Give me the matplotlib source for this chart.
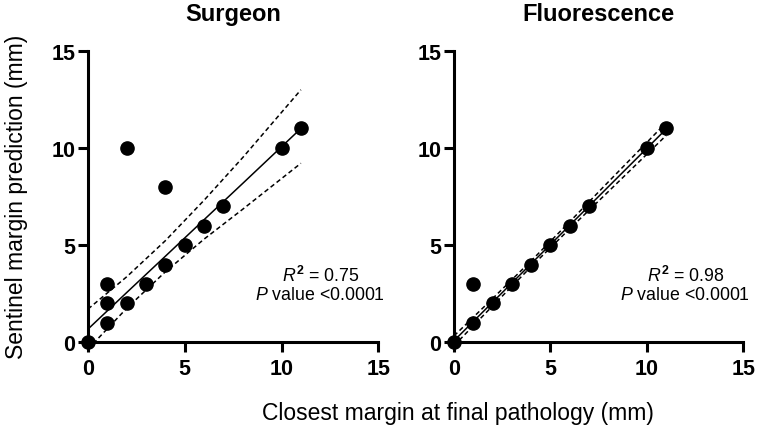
import matplotlib
matplotlib.use("Agg")
import matplotlib.pyplot as plt

plt.rcParams['font.family'] = ['Liberation Sans', 'DejaVu Sans']
plt.rcParams['mathtext.fontset'] = 'custom'
plt.rcParams['mathtext.rm'] = 'Liberation Sans'
plt.rcParams['mathtext.it'] = 'Liberation Sans:italic'
plt.rcParams['mathtext.bf'] = 'Liberation Sans:bold'

# ---- data ----
titles = ["Surgeon", "Fluorescence"]

surgeon_x = [0, 1, 1, 1, 2, 2, 3, 4, 4, 5, 6, 7, 10, 11]
surgeon_y = [0, 1, 2, 3, 2, 10, 3, 4, 8, 5, 6, 7, 10, 11]

fluor_x = [0, 1, 1, 2, 3, 4, 5, 6, 7, 10, 11]
fluor_y = [0, 1, 3, 2, 3, 4, 5, 6, 7, 10, 11]

# regression lines and 95% confidence bands, read at these x positions
band_x = [0, 2, 4, 6, 8, 11]
surgeon_fit = [0.68, 2.56, 4.43, 6.31, 8.18, 11.0]
surgeon_upper = [1.71, 3.37, 5.23, 7.31, 9.51, 12.99]
surgeon_lower = [-0.35, 1.75, 3.63, 5.31, 6.85, 9.21]

fluor_fit = [0.08, 2.06, 4.04, 6.02, 8.0, 10.97]
fluor_upper = [0.33, 2.25, 4.19, 6.2, 8.25, 11.3]
fluor_lower = [-0.17, 1.87, 3.89, 5.84, 7.75, 10.64]

r2_labels = ["0.75", "0.98"]
p_label = "<0.0001"

ticks = [0, 5, 10, 15]
xlabel = "Closest margin at final pathology (mm)"
ylabel = "Sentinel margin prediction (mm)"

# ---- figure ----
fig = plt.figure(figsize=(7.6, 4.31), dpi=100)
ax1 = fig.add_axes([0.1158, 0.2035, 0.382, 0.6765])
ax2 = fig.add_axes([0.5974, 0.2035, 0.3806, 0.6765])

panels = [
    (ax1, surgeon_x, surgeon_y, surgeon_fit, surgeon_upper, surgeon_lower),
    (ax2, fluor_x, fluor_y, fluor_fit, fluor_upper, fluor_lower),
]

for i, (ax, xs, ys, fit, up, lo) in enumerate(panels):
    ax.plot(band_x, fit, color='black', lw=1.1, zorder=3)
    ax.plot(band_x, up, color='black', lw=1.1, ls=(0, (3.0, 2.0)), zorder=3)
    ax.plot(band_x, lo, color='black', lw=1.1, ls=(0, (3.0, 2.0)), zorder=3)
    ax.plot(xs, ys, 'o', color='black', ms=9.5, clip_on=False, zorder=5)

    ax.set_xlim(0, 15)
    ax.set_ylim(0, 15)
    ax.set_xticks(ticks)
    ax.set_yticks(ticks)
    ax.set_xticklabels([str(t) for t in ticks], fontweight='bold', fontsize=15.5)
    ax.set_yticklabels([str(t) for t in ticks], fontweight='bold', fontsize=15.5)
    for s in ['top', 'right']:
        ax.spines[s].set_visible(False)
    for s in ['left', 'bottom']:
        ax.spines[s].set_linewidth(2.2)
    ax.tick_params(axis='both', length=7, width=2.2, direction='out')
    ax.tick_params(axis='x', pad=4)
    ax.tick_params(axis='y', pad=2)
    ax.set_title(titles[i], fontweight='bold', fontsize=17, pad=22)

    ax.text(12.0, 3.45, r"$\mathit{R}^{\mathbf{2}}$ = " + r2_labels[i],
            ha='center', va='center', fontsize=12.8)
    ax.text(12.0, 2.45, r"$\mathit{P}$ value " + p_label,
            ha='center', va='center', fontsize=12.8)

fig.text(0.602, 0.040, xlabel, ha='center', va='center', fontsize=16.5)
fig.text(0.022, 0.543, ylabel, ha='center', va='center', rotation=90, fontsize=16.5)

fig.savefig("out.png", dpi=100)
